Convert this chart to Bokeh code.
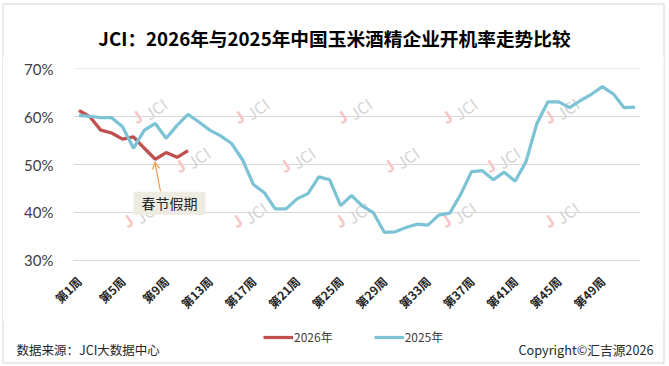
import math
from bokeh.plotting import figure
from bokeh.layouts import column, row
from bokeh.models import (Range1d, FixedTicker, PrintfTickFormatter, Legend, LegendItem,
                          Label, Arrow, OpenHead, ColumnDataSource)
from bokeh.core.properties import value
from bokeh.embed import file_html
from bokeh.resources import INLINE

# ---------------- data ----------------
weeks = list(range(1, 53))
weeks_2026 = list(range(1, 12))
rate_2026 = [61.3, 60.0, 57.2, 56.6, 55.3, 55.8, 53.4, 51.1, 52.5, 51.5, 52.9]
rate_2025 = [60.3, 60.1, 59.8, 59.8, 57.9, 53.4, 57.2, 58.6, 55.5, 58.2,
             60.5, 58.9, 57.2, 56.0, 54.4, 51.0, 45.8, 44.1, 40.7, 40.7,
             42.8, 43.9, 47.4, 46.8, 41.4, 43.5, 41.3, 39.9, 35.8, 35.9,
             36.8, 37.5, 37.3, 39.4, 39.8, 43.7, 48.5, 48.7, 46.8, 48.4,
             46.5, 50.6, 58.6, 63.1, 63.1, 61.9, 63.4, 64.7, 66.3, 64.8,
             61.9, 62.0]
tick_weeks = [1, 5, 9, 13, 17, 21, 25, 29, 33, 37, 41, 45, 49]
tick_labels = ["第1周", "第5周", "第9周", "第13周", "第17周", "第21周", "第25周",
               "第29周", "第33周", "第37周", "第41周", "第45周", "第49周"]
y_ticks = [30, 40, 50, 60, 70]
series_names = ["2026年", "2025年"]
title_text = "JCI：2026年与2025年中国玉米酒精企业开机率走势比较"
source_text = "数据来源：JCI大数据中心"
copyright_text = "Copyright©汇吉源2026"
note_text = "春节假期"
note_week = 8

RED = "#C0504D"
BLUE = "#7DC3D6"
GRID = "#D9D9D9"
BORDER = "#D4D4D4"
CJK = "Noto Sans CJK SC"
W = 669
TOP_H = 56
MAIN_H = 264
FOOT_H = 366 - TOP_H - MAIN_H
LEFT_W = 3
RIGHT_W = 6
BX0, BX1, BY0, BY1 = 2.5, 663.5, 3.5, 362.5   # outer frame of the chart card


def strip(width, height, x0, y0):
    f = figure(width=width, height=height, output_backend="svg", toolbar_location=None,
               x_range=Range1d(x0, x0 + width), y_range=Range1d(y0 + height, y0),
               x_axis_location=None, y_axis_location=None, min_border=0,
               frame_align=False)
    f.grid.visible = False
    f.outline_line_color = None
    f.background_fill_color = "white"
    f.border_fill_color = "white"
    return f


# ---------------- title strip ----------------
top = strip(W, TOP_H, 0, 0)
top.segment(x0=[BX0, BX0, BX1], y0=[BY0, BY0, BY0], x1=[BX1, BX0, BX1], y1=[BY0, TOP_H, TOP_H],
            line_color=BORDER, line_width=1)
top.text(x=[334], y=[37], text=[title_text], text_align="center", text_baseline="middle",
         text_font=value(CJK), text_font_style="bold", text_font_size="18.7px",
         text_color="#000000")

# ---------------- side strips (card border) ----------------
lstrip = strip(LEFT_W, MAIN_H, 0, TOP_H)
lstrip.segment(x0=[BX0], y0=[TOP_H], x1=[BX0], y1=[TOP_H + MAIN_H], line_color=BORDER)
rstrip = strip(RIGHT_W, MAIN_H, W - RIGHT_W, TOP_H)
rstrip.segment(x0=[BX1], y0=[TOP_H], x1=[BX1], y1=[TOP_H + MAIN_H], line_color=BORDER)

# ---------------- main chart ----------------
MAIN_W = W - LEFT_W - RIGHT_W
p = figure(width=MAIN_W, height=MAIN_H, output_backend="svg", toolbar_location=None,
           x_range=Range1d(0.5, 52.5), y_range=Range1d(29.9, 70.1),
           min_border_left=73 - LEFT_W, min_border_right=MAIN_W - (73 - LEFT_W) - 567,
           min_border_top=12, min_border_bottom=59, frame_align=False)
p.outline_line_color = None
p.background_fill_color = "white"
p.border_fill_color = "white"

p.xgrid.visible = False
p.ygrid.ticker = FixedTicker(ticks=y_ticks)
p.ygrid.grid_line_color = GRID
p.ygrid.grid_line_width = 1.2

ya = p.yaxis[0]
ya.ticker = FixedTicker(ticks=y_ticks)
ya.formatter = PrintfTickFormatter(format="%d%%")
ya.axis_line_color = None
ya.major_tick_line_color = None
ya.minor_tick_line_color = None
ya.major_label_standoff = 14
ya.major_label_text_font = "Lato"
ya.major_label_text_font_size = "15px"
ya.major_label_text_color = "#404040"

xa = p.xaxis[0]
xa.ticker = FixedTicker(ticks=tick_weeks)
xa.major_label_overrides = {w: l for w, l in zip(tick_weeks, tick_labels)}
xa.major_label_orientation = math.pi / 4
xa.axis_line_color = GRID
xa.axis_line_width = 1.2
xa.major_tick_line_color = None
xa.minor_tick_line_color = None
xa.major_label_standoff = 12
xa.major_label_text_font = CJK
xa.major_label_text_font_style = "bold"
xa.major_label_text_font_size = "12px"
xa.major_label_text_color = "#262626"

# watermarks (decoration), page px positions converted to frame-relative screen px
wm_pos = [(150, 111), (252, 111), (355, 111), (460, 111), (562, 111),
          (193, 160), (298, 160), (402, 160), (503, 160),
          (141, 215), (250, 215), (353, 215), (459, 215), (562, 215)]
for (px, py) in wm_pos:
    sx, sy = px - 73, 261 - py
    p.add_layout(Label(x=sx + 5, y=sy + 2, x_units="screen", y_units="screen", text="JCI",
                       angle=0.6, text_font=CJK, text_font_size="16px",
                       text_color="#D4D4D4", text_align="center", text_baseline="middle",
                       level="underlay"))
    p.add_layout(Label(x=sx - 14, y=sy - 6, x_units="screen", y_units="screen", text="J",
                       angle=0.6, text_font=CJK, text_font_size="16px", text_font_style="bold",
                       text_color="#F7C3C3", text_align="center", text_baseline="middle",
                       level="underlay"))

r26 = p.line(weeks_2026, rate_2026, line_color=RED, line_width=3.25)
r25 = p.line(weeks, rate_2025, line_color=BLUE, line_width=3.25)

box_src = ColumnDataSource(dict(x=[9.31], y=[41.9], t=[note_text]))
p.rect(x="x", y="y", width=72, height=23, width_units="screen", height_units="screen",
       source=box_src, fill_color="#EEECE1", line_color=None)
p.text(x="x", y="y", text="t", source=box_src, text_align="center", text_baseline="middle",
       text_font=value(CJK), text_font_size="14px", text_color="#262626")
p.add_layout(Arrow(end=OpenHead(size=7, line_color="#F79646", line_width=1.2),
                   x_start=8.48, y_start=44.4, x_end=note_week - 0.05,
                   y_end=rate_2026[note_week - 1] - 0.6,
                   line_color="#F79646", line_width=1.2))

# ---------------- footer strip ----------------
y0 = TOP_H + MAIN_H
foot = strip(W, FOOT_H, 0, y0)
foot.segment(x0=[BX0, BX0, BX1], y0=[y0, BY1, y0], x1=[BX0, BX1, BX1], y1=[BY1, BY1, BY1],
             line_color=BORDER, line_width=1)
nan = float("nan")
l26 = foot.line([nan], [nan], line_color=RED, line_width=3.25)
l25 = foot.line([nan], [nan], line_color=BLUE, line_width=3.25)
legend = Legend(items=[LegendItem(label=series_names[0], renderers=[l26]),
                       LegendItem(label=series_names[1], renderers=[l25])],
                orientation="horizontal", location=(263, 366 - 345))
legend.glyph_width = 30
legend.glyph_height = 14
legend.label_height = 14
legend.label_standoff = 1
legend.spacing = 41
legend.padding = 0
legend.margin = 0
legend.border_line_color = None
legend.background_fill_alpha = 0
legend.label_text_font = CJK
legend.label_text_font_size = "12px"
legend.label_text_color = "#404040"
foot.add_layout(legend, "center")
foot.text(x=[16], y=[348.5], text=[source_text], text_align="left", text_baseline="middle",
          text_font=value(CJK), text_font_size="12.5px", text_color="#262626")
foot.text(x=[653], y=[348.5], text=[copyright_text], text_align="right",
          text_baseline="middle", text_font=value(CJK), text_font_size="12.7px",
          text_color="#262626")

layout = column(top, row(lstrip, p, rstrip, spacing=0), foot, spacing=0)

open("out.html", "w").write(file_html(layout, INLINE))
